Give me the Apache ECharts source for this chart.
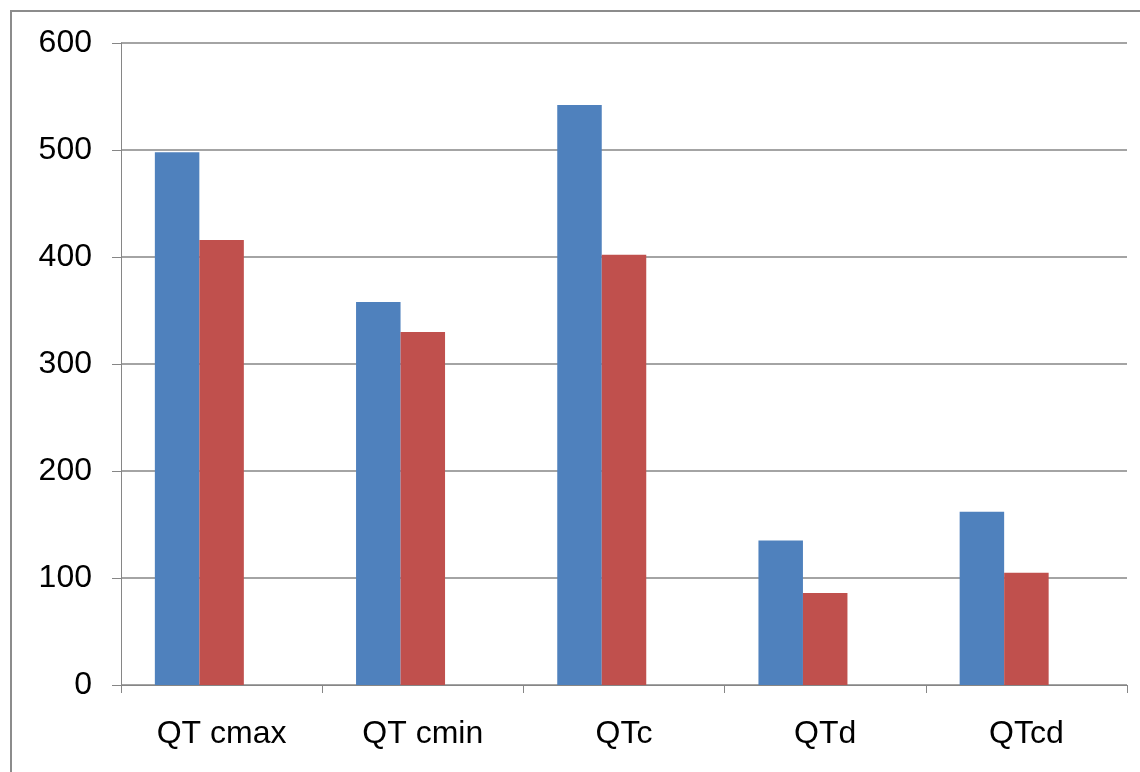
<!DOCTYPE html>
<html>
<head>
<meta charset="utf-8">
<script src="https://cdn.jsdelivr.net/npm/echarts@6/dist/echarts.min.js"></script>
<style>
  html, body { margin: 0; padding: 0; background: #fff; }
  #chart { width: 1140px; height: 772px; }
</style>
</head>
<body>
<div id="chart"></div>
<script>
// QT interval measures, two groups (third slot left empty)
const categories = ['QT cmax', 'QT cmin', 'QTc', 'QTd', 'QTcd'];
const seriesA = [498, 358, 542, 135, 162];
const seriesB = [416, 330, 402, 86, 105];
const seriesC = [];
const yTicks = { min: 0, max: 600, interval: 100 };

const chart = echarts.init(document.getElementById('chart'));
const axisGray = '#868686';
const font = 'Liberation Sans, Arial, sans-serif';

function barSeries(data, color) {
  return {
    type: 'bar',
    data: data,
    barWidth: 44.5,
    barGap: '0%',
    itemStyle: { color: color }
  };
}

chart.setOption({
  animation: false,
  backgroundColor: '#ffffff',
  graphic: [{
    type: 'rect',
    shape: { x: 11, y: 11, width: 1200, height: 800 },
    style: { fill: 'none', stroke: '#8c8c8c', lineWidth: 2 },
    silent: true
  }],
  grid: { left: 121, right: 13, top: 43, bottom: 87, containLabel: false },
  xAxis: {
    type: 'category',
    data: categories,
    axisLine: { lineStyle: { color: axisGray, width: 1 } },
    axisTick: { show: true, length: 8, inside: false, alignWithLabel: false, lineStyle: { color: axisGray } },
    axisLabel: { color: '#000', fontSize: 32, fontFamily: font, margin: 33 },
    splitLine: { show: false }
  },
  yAxis: {
    type: 'value',
    min: yTicks.min,
    max: yTicks.max,
    interval: yTicks.interval,
    axisLine: { show: true, lineStyle: { color: axisGray, width: 1 } },
    axisTick: { show: true, length: 9, lineStyle: { color: axisGray } },
    axisLabel: { color: '#000', fontSize: 32, fontFamily: font, margin: 29 },
    splitLine: { show: true, lineStyle: { color: axisGray, width: 1.5 } }
  },
  series: [
    barSeries(seriesA, '#4F81BD'),
    barSeries(seriesB, '#C0504D'),
    barSeries(seriesC, '#9BBB59')
  ]
});
</script>
</body>
</html>
